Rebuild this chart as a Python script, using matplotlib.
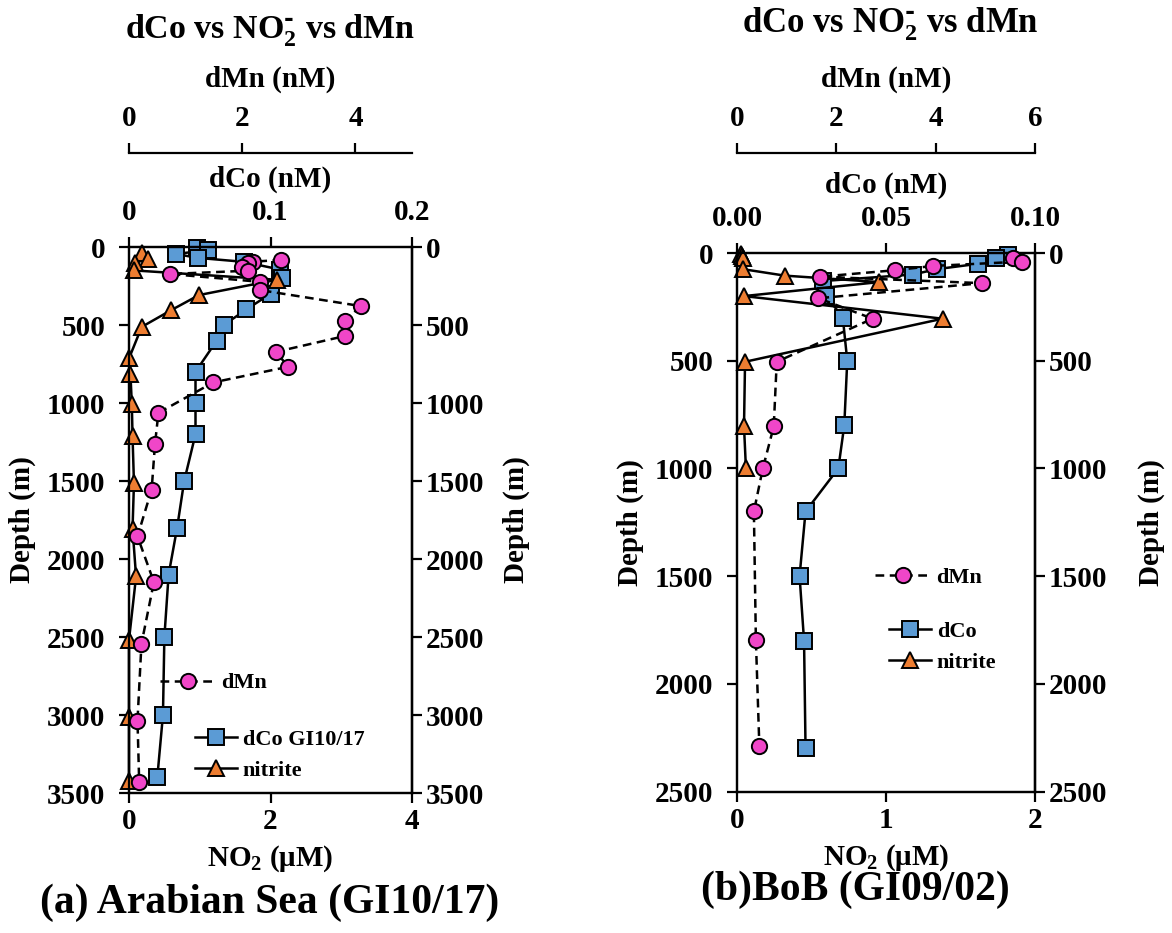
import matplotlib.pyplot as plt
from matplotlib.lines import Line2D

plt.rcParams['font.family'] = ['Liberation Serif', 'DejaVu Serif']
plt.rcParams['font.weight'] = 'bold'
plt.rcParams['axes.labelweight'] = 'bold'
plt.rcParams['mathtext.default'] = 'regular'
plt.rcParams['axes.linewidth'] = 1.6

# (a) Arabian Sea GI10/17
as_co_depth = [5, 20, 45, 70, 95, 145, 200, 300, 400, 500, 600, 800, 1000, 1200, 1500, 1800, 2100, 2500, 3000, 3400]
as_co = [0.048, 0.056, 0.033, 0.049, 0.081, 0.107, 0.108, 0.100, 0.083, 0.067, 0.062, 0.047, 0.047, 0.047,
         0.039, 0.034, 0.028, 0.025, 0.024, 0.020]
as_mn_depth = [83, 94, 105, 126, 152, 173, 223, 276, 379, 473, 571, 672, 768, 868, 1063, 1260, 1555, 1855,
               2148, 2544, 3036, 3432]
as_mn = [2.69, 2.19, 2.10, 1.99, 2.10, 0.72, 2.31, 2.31, 4.10, 3.81, 3.81, 2.60, 2.81, 1.49, 0.52, 0.46,
         0.40, 0.15, 0.44, 0.22, 0.15, 0.18]
as_no2_depth = [40, 80, 100, 150, 210, 308, 404, 512, 714, 811, 1008, 1213, 1513, 1806, 2112, 2518, 3010, 3421]
as_no2 = [0.18, 0.27, 0.08, 0.07, 2.09, 0.99, 0.60, 0.18, 0.00, 0.02, 0.04, 0.05, 0.07, 0.05, 0.10,
          0.00, 0.00, 0.00]

# (b) BoB GI09/02
bob_co_depth = [10, 25, 50, 75, 100, 130, 200, 300, 500, 800, 1000, 1200, 1500, 1800, 2300]
bob_co = [0.091, 0.087, 0.081, 0.067, 0.059, 0.029, 0.030, 0.0355, 0.037, 0.036, 0.034, 0.023, 0.021,
          0.0225, 0.023]
bob_mn_depth = [25, 40, 60, 80, 110, 140, 210, 305, 505, 805, 1000, 1200, 1795, 2290]
bob_mn = [5.55, 5.73, 3.95, 3.18, 1.67, 4.93, 1.64, 2.73, 0.80, 0.74, 0.52, 0.34, 0.38, 0.45]
bob_no2_depth = [5, 15, 25, 75, 105, 135, 200, 305, 505, 805, 1000]
bob_no2 = [0.03, 0.035, 0.04, 0.04, 0.32, 0.955, 0.047, 1.38, 0.054, 0.047, 0.06]

MN_COLOR = '#F046C8'
CO_COLOR = '#5B9BD5'
NO2_COLOR = '#ED7D31'

W, H = 1172, 933
fig = plt.figure(figsize=(W / 100, H / 100), dpi=100)

TICK_FS = 21
LAB_FS = 21
MS = 11


def panel(l, t, r, b, no2_max, co_max, co_ticks, co_labels, mn_max, mn_ticks, depth_max, mn_offset, rpad):
    ax = fig.add_axes([l / W, 1 - b / H, (r - l) / W, (b - t) / H])
    ax.set_xlim(0, no2_max)
    ax.set_ylim(depth_max, 0)
    ax.set_xticks(range(0, int(no2_max) + 1, 1 if no2_max <= 2 else 2))
    ax.set_yticks(range(0, depth_max + 1, 500))
    ax.tick_params(direction='out', length=7, width=1.6, labelsize=TICK_FS, pad=4)
    ax.tick_params(axis='y', pad=10)
    ax.set_xlabel('NO$_2$ (μM)', fontsize=LAB_FS, labelpad=6)
    ax.set_ylabel('Depth (m)', fontsize=LAB_FS, labelpad=8)
    sec = ax.secondary_yaxis('right')
    sec.set_yticks(range(0, depth_max + 1, 500))
    sec.tick_params(direction='out', length=7, width=1.6, labelsize=TICK_FS, pad=3)
    sec.set_ylabel('Depth (m)', fontsize=LAB_FS, labelpad=rpad)

    ax_co = ax.twiny()
    ax_co.set_xlim(0, co_max)
    ax_co.set_xticks(co_ticks)
    ax_co.set_xticklabels(co_labels)
    ax_co.tick_params(direction='out', length=7, width=1.6, labelsize=TICK_FS, pad=8)
    ax_co.set_xlabel('dCo (nM)', fontsize=LAB_FS, labelpad=9)

    ax_mn = ax.twiny()
    ax_mn.set_xlim(0, mn_max)
    ax_mn.set_xticks(mn_ticks)
    ax_mn.spines['top'].set_position(('outward', mn_offset))
    for s in ['bottom', 'left', 'right']:
        ax_mn.spines[s].set_visible(False)
    ax_mn.tick_params(direction='out', length=7, width=1.6, labelsize=TICK_FS, pad=8)
    ax_mn.set_xlabel('dMn (nM)', fontsize=LAB_FS, labelpad=13)

    # nitrite above dCo, dMn on top
    ax_co.set_zorder(1)
    ax.set_zorder(2)
    ax.patch.set_visible(False)
    ax_mn.set_zorder(3)
    return ax, ax_co, ax_mn


def draw(ax, ax_co, ax_mn, no2, no2_d, co, co_d, mn, mn_d):
    ax_co.plot(co, co_d, color='black', lw=1.8, marker='s', ms=MS, mfc=CO_COLOR, mec='black',
               mew=1.4, clip_on=False)
    ax.plot(no2, no2_d, color='black', lw=1.8, marker='^', ms=MS + 1, mfc=NO2_COLOR, mec='black',
            mew=1.4, clip_on=False)
    ax_mn.plot(mn, mn_d, color='black', lw=1.8, ls=(0, (3.5, 2.2)), marker='o', ms=MS, mfc=MN_COLOR,
               mec='black', mew=1.4, clip_on=False)


# panel (a)
a, a_co, a_mn = panel(129, 247, 412, 793, 4, 0.2, [0, 0.1, 0.2], ['0', '0.1', '0.2'],
                      5, [0, 2, 4], 3500, 68, 13)
draw(a, a_co, a_mn, as_no2, as_no2_depth, as_co, as_co_depth, as_mn, as_mn_depth)

# panel (b)
b, b_co, b_mn = panel(737, 253, 1035, 791.5, 2, 0.1, [0, 0.05, 0.1], ['0.00', '0.05', '0.10'],
                      6, [0, 2, 4, 6], 2500, 72, 22)
draw(b, b_co, b_mn, bob_no2, bob_no2_depth, bob_co, bob_co_depth, bob_mn, bob_mn_depth)

title = r'dCo vs NO$_2^{\text{-}}$ vs dMn'
fig.text(270 / W, 1 - 30 / H, title, fontsize=24.5, ha='center', va='center')
fig.text(890 / W, 1 - 24 / H, title, fontsize=25, ha='center', va='center')
fig.text(270 / W, 1 - 903 / H, '(a) Arabian Sea (GI10/17)', fontsize=30, ha='center', va='center')
fig.text(855 / W, 1 - 890 / H, '(b)BoB (GI09/02)', fontsize=30, ha='center', va='center')

h_mn = Line2D([], [], color='black', lw=1.8, ls=(0, (3.5, 2.2)), marker='o', ms=MS, mfc=MN_COLOR,
              mec='black', mew=1.4)
h_co = Line2D([], [], color='black', lw=1.8, marker='s', ms=MS, mfc=CO_COLOR, mec='black', mew=1.4)
h_no2 = Line2D([], [], color='black', lw=1.8, marker='^', ms=MS, mfc=NO2_COLOR, mec='black', mew=1.4)

leg_kw = dict(loc='center left', frameon=False, borderpad=0, borderaxespad=0, handletextpad=0.25,
              prop={'size': 16, 'weight': 'bold'}, numpoints=1)
fig.legend([h_mn], ['dMn'], bbox_to_anchor=(160 / W, 1 - 683 / H), handlelength=2.5, **leg_kw)
fig.legend([h_co, h_no2], ['dCo GI10/17', 'nitrite'], bbox_to_anchor=(195 / W, 1 - 755 / H),
           handlelength=1.9, labelspacing=0.45, **leg_kw)
fig.legend([h_mn], ['dMn'], bbox_to_anchor=(875 / W, 1 - 578 / H), handlelength=2.5, **leg_kw)
fig.legend([h_co, h_no2], ['dCo', 'nitrite'], bbox_to_anchor=(889 / W, 1 - 647 / H),
           handlelength=1.9, labelspacing=0.45, **leg_kw)

fig.savefig('out.png', dpi=100, facecolor='white')
